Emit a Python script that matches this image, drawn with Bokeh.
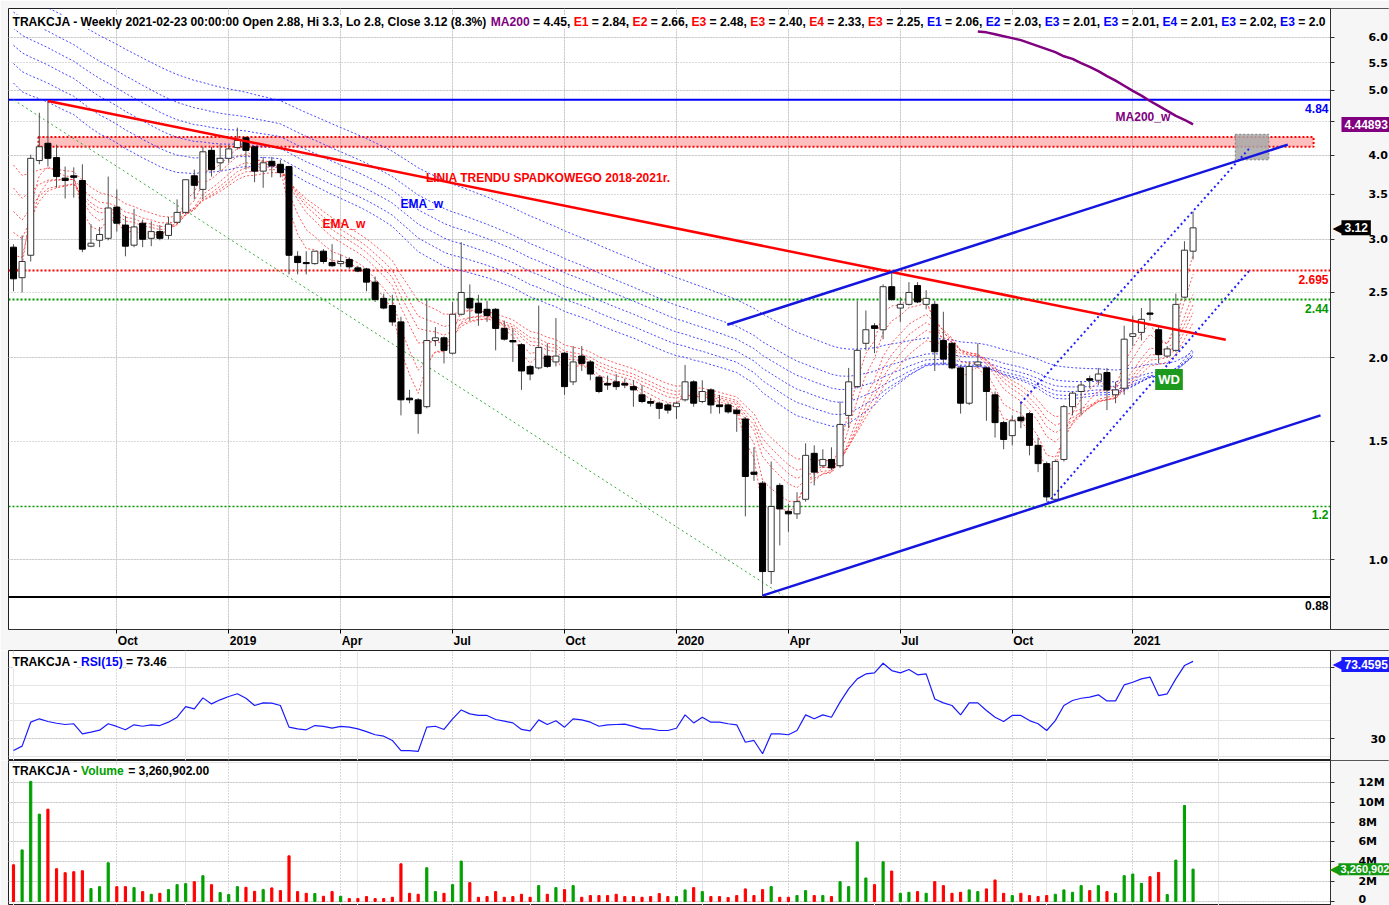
import numpy as np
from bokeh.plotting import figure
from bokeh.models import (FixedTicker, PrintfTickFormatter, Label, Grid, ColumnDataSource,
                          LogAxis, LinearAxis, BoxAnnotation)
from bokeh.layouts import column
from bokeh.embed import file_html
from bokeh.resources import INLINE

# ---------------- data (weekly bars, first week 2018-07-09, last 2021-02-22) ----------------
opens = [2.92, 2.63, 2.84, 3.93, 4.17, 3.97, 3.70, 3.73, 3.67, 2.93,
         2.99, 3.01, 3.35, 3.15, 2.94, 3.17, 3.01, 3.08, 3.04, 3.18,
         3.29, 3.73, 3.56, 4.07, 3.90, 3.96, 4.11, 4.25, 4.12, 3.79,
         3.92, 3.88, 3.85, 2.83, 2.77, 2.76, 2.88, 2.77, 2.76, 2.80,
         2.72, 2.71, 2.59, 2.45, 2.39, 2.26, 1.74, 1.73, 1.69, 2.12,
         2.14, 2.03, 2.32, 2.45, 2.41, 2.36, 2.36, 2.21, 2.12, 2.09,
         1.94, 1.93, 2.01, 1.97, 2.03, 1.84, 2.01, 1.97, 1.87, 1.83,
         1.84, 1.83, 1.81, 1.76, 1.72, 1.71, 1.70, 1.69, 1.73, 1.84,
         1.72, 1.79, 1.70, 1.70, 1.67, 1.62, 1.35, 1.30, 0.96, 1.29,
         1.18, 1.17, 1.23, 1.44, 1.38, 1.41, 1.38, 1.64, 1.81, 2.10,
         2.23, 2.20, 2.55, 2.37, 2.40, 2.56, 2.40, 2.40, 2.12, 2.10,
         1.93, 1.71, 1.95, 1.93, 1.76, 1.60, 1.53, 1.63, 1.65, 1.48,
         1.39, 1.23, 1.41, 1.69, 1.78, 1.86, 1.85, 1.90, 1.76, 1.80,
         2.15, 2.18, 2.33, 2.20, 2.01, 2.05, 2.46, 2.88]
highs = [2.95, 3.04, 4.01, 4.63, 4.82, 4.15, 3.85, 3.84, 3.88, 3.16,
         3.13, 3.72, 3.56, 3.25, 3.33, 3.21, 3.19, 3.15, 3.24, 3.44,
         3.68, 3.81, 4.12, 4.12, 4.15, 4.15, 4.40, 4.27, 4.13, 3.98,
         3.98, 3.94, 3.86, 2.88, 2.88, 2.88, 2.90, 2.95, 2.85, 2.82,
         2.74, 2.72, 2.64, 2.49, 2.48, 2.30, 1.79, 1.74, 2.45, 2.22,
         2.15, 2.42, 2.97, 2.57, 2.48, 2.43, 2.37, 2.27, 2.21, 2.10,
         1.95, 2.39, 2.10, 2.29, 2.04, 2.08, 2.08, 1.98, 1.88, 1.88,
         1.89, 1.86, 1.85, 1.82, 1.74, 1.72, 1.71, 1.72, 1.95, 1.85,
         1.85, 1.80, 1.76, 1.71, 1.68, 1.63, 1.47, 1.31, 1.40, 1.30,
         1.21, 1.26, 1.49, 1.48, 1.46, 1.47, 1.72, 1.93, 2.43, 2.35,
         2.25, 2.57, 2.69, 2.46, 2.59, 2.59, 2.52, 2.43, 2.34, 2.11,
         1.95, 1.97, 2.10, 1.94, 1.78, 1.61, 1.64, 1.72, 1.66, 1.52,
         1.40, 1.41, 1.70, 1.78, 1.84, 1.88, 1.93, 1.93, 1.84, 2.23,
         2.31, 2.37, 2.45, 2.23, 2.08, 2.49, 2.98, 3.30]
lows = [2.51, 2.50, 2.78, 3.88, 3.85, 3.58, 3.45, 3.46, 2.87, 2.92,
        2.92, 2.99, 3.08, 2.83, 2.92, 2.92, 2.93, 2.99, 3.00, 3.17,
        3.27, 3.44, 3.44, 3.72, 3.79, 3.90, 4.08, 3.81, 3.65, 3.58,
        3.71, 3.71, 2.66, 2.66, 2.66, 2.75, 2.76, 2.73, 2.73, 2.71,
        2.68, 2.51, 2.42, 2.36, 2.23, 1.64, 1.71, 1.54, 1.68, 2.08,
        1.96, 2.02, 2.31, 2.27, 2.23, 2.26, 2.05, 2.12, 1.97, 1.79,
        1.85, 1.92, 1.93, 1.94, 1.76, 1.82, 1.91, 1.85, 1.77, 1.79,
        1.79, 1.80, 1.69, 1.71, 1.69, 1.62, 1.65, 1.62, 1.72, 1.69,
        1.71, 1.65, 1.65, 1.65, 1.55, 1.16, 1.31, 0.88, 0.92, 1.05,
        1.10, 1.15, 1.22, 1.29, 1.37, 1.36, 1.37, 1.57, 1.80, 2.05,
        2.03, 2.13, 2.43, 2.26, 2.39, 2.41, 2.36, 1.91, 1.95, 1.92,
        1.65, 1.70, 1.93, 1.61, 1.52, 1.46, 1.48, 1.57, 1.43, 1.35,
        1.22, 1.22, 1.40, 1.64, 1.64, 1.80, 1.82, 1.67, 1.71, 1.76,
        2.08, 2.12, 2.27, 1.96, 2.00, 2.04, 2.45, 2.80]
closes = [2.62, 2.78, 3.96, 4.12, 3.96, 3.72, 3.67, 3.71, 2.90, 2.96,
          3.05, 3.34, 3.17, 2.93, 3.13, 3.00, 3.08, 3.01, 3.16, 3.29,
          3.68, 3.61, 4.05, 3.81, 3.96, 4.09, 4.21, 4.07, 3.79, 3.90,
          3.86, 3.77, 2.84, 2.77, 2.76, 2.88, 2.78, 2.74, 2.78, 2.73,
          2.69, 2.59, 2.44, 2.37, 2.26, 1.73, 1.73, 1.65, 2.12, 2.14,
          2.05, 2.32, 2.50, 2.37, 2.33, 2.31, 2.21, 2.13, 2.11, 1.91,
          1.89, 2.07, 1.94, 2.01, 1.81, 1.97, 1.96, 1.89, 1.78, 1.82,
          1.81, 1.82, 1.79, 1.72, 1.71, 1.68, 1.67, 1.71, 1.84, 1.71,
          1.78, 1.70, 1.69, 1.66, 1.65, 1.33, 1.34, 0.96, 1.20, 1.19,
          1.17, 1.22, 1.43, 1.35, 1.41, 1.37, 1.59, 1.84, 2.05, 2.20,
          2.21, 2.55, 2.44, 2.40, 2.50, 2.42, 2.45, 2.04, 1.99, 1.93,
          1.71, 1.94, 1.97, 1.78, 1.60, 1.51, 1.61, 1.61, 1.48, 1.39,
          1.24, 1.40, 1.69, 1.77, 1.82, 1.85, 1.89, 1.79, 1.79, 2.13,
          2.17, 2.28, 2.32, 2.02, 2.06, 2.40, 2.89, 3.12]
volume_mln = [3.7, 5.2, 12.1, 8.8, 9.3, 3.3, 2.9, 3.0, 3.1, 1.3,
              1.5, 3.9, 1.5, 1.5, 1.4, 1.0, 0.73, 0.83, 1.2, 1.7,
              1.8, 2.0, 2.6, 1.7, 0.9, 0.7, 1.5, 1.43, 1.03, 1.2,
              1.37, 1.1, 4.6, 1.0, 0.83, 0.8, 0.53, 1.0, 0.53, 0.3,
              0.3, 0.5, 0.3, 0.3, 0.43, 3.8, 0.83, 0.73, 3.4, 1.0,
              0.83, 1.7, 4.07, 1.9, 0.43, 0.5, 1.0, 0.43, 0.5, 0.73,
              0.43, 1.6, 0.73, 1.4, 1.2, 1.6, 0.43, 0.6, 0.6, 0.6,
              0.73, 0.5, 0.5, 0.43, 0.5, 0.8, 0.5, 0.5, 1.17, 1.4,
              1.0, 0.5, 0.5, 0.4, 0.6, 1.27, 0.6, 1.2, 1.5, 0.43,
              0.43, 0.6, 1.1, 0.6, 0.6, 0.5, 2.0, 1.5, 6.0, 2.37,
              1.7, 4.0, 3.07, 0.83, 0.93, 1.0, 0.83, 2.0, 1.6, 0.83,
              0.93, 1.17, 1.0, 1.27, 2.17, 0.83, 0.6, 0.83, 0.6, 0.5,
              0.6, 0.73, 1.17, 0.93, 1.6, 1.1, 1.6, 1.0, 0.83, 2.6,
              2.77, 1.83, 2.5, 2.93, 0.7, 4.17, 9.67, 3.260902]
rsi15 = [23.2, 25.7, 39.2, 41.1, 39.6, 38.6, 37.9, 38.3, 32.6, 33.6,
         34.7, 38.3, 36.8, 34.9, 37.7, 36.9, 37.7, 37.3, 39.2, 42.0,
         48.0, 46.7, 52.9, 49.5, 51.8, 53.7, 55.2, 52.7, 48.6, 50.1,
         49.9, 48.6, 36.4, 35.4, 34.9, 37.3, 36.8, 35.8, 36.8, 36.4,
         35.4, 33.9, 32.1, 31.3, 28.9, 23.2, 23.2, 22.7, 36.4, 36.9,
         35.1, 41.1, 46.1, 43.9, 43.0, 43.0, 40.7, 39.8, 38.8, 35.1,
         34.3, 40.5, 37.9, 40.0, 36.4, 41.1, 40.5, 39.2, 36.9, 37.7,
         37.9, 38.1, 36.8, 35.4, 35.4, 34.5, 34.5, 35.8, 43.3, 38.8,
         42.0, 39.2, 39.2, 38.3, 37.7, 27.9, 28.9, 21.4, 32.6, 32.6,
         32.1, 34.5, 43.3, 41.1, 43.3, 42.0, 50.5, 58.0, 63.6, 66.4,
         67.0, 72.4, 68.3, 67.0, 68.9, 65.9, 66.4, 52.3, 50.1, 48.6,
         43.3, 50.1, 50.1, 45.8, 42.0, 39.6, 43.0, 43.0, 40.1, 38.3,
         34.5, 40.1, 48.6, 51.4, 52.7, 53.3, 54.6, 51.2, 51.2, 60.2,
         61.7, 63.6, 64.6, 54.2, 55.2, 63.6, 71.1, 73.4595]
ma200_first_bar = 112
ma200_w = [6.12, 6.10, 6.06, 6.02, 5.98, 5.94, 5.88, 5.82, 5.76, 5.70,
           5.62, 5.57, 5.49, 5.42, 5.34, 5.25, 5.17, 5.08, 4.99, 4.91,
           4.82, 4.74, 4.66, 4.58, 4.52, 4.44893]
# GMMA ribbons: EMA periods and their values at the first visible week
red_ema_periods = [3, 5, 8, 10, 12, 15]
red_ema_start = [2.75, 2.95, 3.20, 3.45, 3.75, 4.05]
blue_ema_periods = [30, 35, 40, 45, 50, 60]
blue_ema_start = [5.30, 5.65, 6.00, 6.35, 6.70, 7.20]

xtick_bars = [12, 25, 38, 51, 64, 77, 90, 103, 116, 130]
xtick_labels = ["Oct", "2019", "Apr", "Jul", "Oct", "2020", "Apr", "Jul", "Oct", "2021"]
price_ticks = [1.0, 1.5, 2.0, 2.5, 3.0, 3.5, 4.0, 4.5, 5.0, 5.5, 6.0]
rsi_ticks = [30, 70]
vol_ticks = [0, 2e6, 4e6, 6e6, 8e6, 10e6, 12e6]
vol_tick_labels = ["0", "2M", "4M", "6M", "8M", "10M", "12M"]

levels = [4.84, 2.695, 2.44, 1.2, 0.88]
level_labels = ["4.84", "2.695", "2.44", "1.2", "0.88"]

trend_red_x, trend_red_y = [4, 140.8], [4.82, 2.126]
channel_up_x, channel_up_y = [82.9, 148.0], [2.238, 4.15]
channel_low_x, channel_low_y = [87.0, 151.8], [0.884, 1.64]
dot_fast_x, dot_fast_y = [116.96, 143.7], [1.709, 4.12]
dot_slow_x, dot_slow_y = [120.1, 143.7], [1.215, 2.709]
green_diag_x, green_diag_y = [0, 89.4], [4.84, 0.884]
resist_zone = dict(left=[2.9], right=[151.0], bottom=[4.12], top=[4.26])
target_box = dict(left=[141.9], right=[145.8], bottom=[3.94], top=[4.30])

red_names = ["E1", "E2", "E3", "E3", "E4", "E3"]
red_vals = ["2.84", "2.66", "2.48", "2.40", "2.33", "2.25"]
blue_names = ["E1", "E2", "E3", "E3", "E4", "E3", "E3"]
blue_vals = ["2.06", "2.03", "2.01", "2.01", "2.01", "2.02", "2.0"]

# ---------------- helpers ----------------
def ema(vals, period, start):
    a = 2.0 / (period + 1)
    e, out = start, []
    for v in vals:
        e = e + a * (v - e)
        out.append(e)
    return out

AW = {}
for ch, w in zip("ABCDEFGHIJKLMNOPQRSTUVWXYZ",
                 [722, 722, 722, 722, 667, 611, 778, 722, 278, 556, 722, 611, 833,
                  722, 778, 667, 778, 722, 667, 611, 722, 667, 944, 667, 667, 611]):
    AW[ch] = w
for ch, w in zip("abcdefghijklmnopqrstuvwxyz",
                 [556, 611, 556, 611, 556, 333, 611, 611, 278, 278, 556, 278, 889,
                  611, 611, 611, 611, 389, 556, 333, 611, 556, 778, 556, 556, 500]):
    AW[ch] = w
for ch in "0123456789":
    AW[ch] = 556
AW.update({" ": 278, ".": 278, ",": 278, ":": 333, "-": 333, "=": 584, "(": 333,
           ")": 333, "%": 889, "_": 556})

def text_px(s, size):
    return sum(AW.get(ch, 556) for ch in s) * size / 1000.0

HFONT = "Liberation Sans"
AFONT = "DejaVu Sans"
PURPLE = "#800080"
GREEN = "#009900"
GRIDC = "#b4b4b4"
STRIP = "#f6f6f6"
PX_PER_BAR = 8.61
X0 = -0.58                      # left frame edge
X1 = 152.96                     # price-axis line
X_END = X0 + 1381 / PX_PER_BAR  # right edge of the window

def add_header(fig, segments, y, size=12.1):
    off = 4.0
    for txt, col in segments:
        lead = len(txt) - len(txt.lstrip(" "))
        fig.add_layout(Label(x=X0, y=y, x_offset=off + text_px(" " * lead, size), text=txt.strip(),
                             text_color=col, text_font=HFONT, text_font_style="bold",
                             text_font_size=f"{size}px", text_baseline="middle",
                             background_fill_color="white"))
        off += text_px(txt, size)

def badge(fig, y, txt, color, offset=11, arrow=True, dy=0, size=12, pad=3):
    if arrow:
        fig.add_layout(Label(x=X1, y=y, x_offset=offset - 9, y_offset=dy, text="\u25C0", text_color=color,
                             text_font=AFONT, text_font_size="15px", text_baseline="middle"))
    fig.add_layout(Label(x=X1, y=y, x_offset=offset, y_offset=dy, text=txt, text_color="white",
                         text_font=HFONT, text_font_style="bold", text_font_size=f"{size}px",
                         text_baseline="middle", background_fill_color=color, padding=pad))

def style_yaxis(ax, standoff):
    ax.major_label_text_font = AFONT
    ax.major_label_text_font_style = "bold"
    ax.major_label_text_font_size = "11px"
    ax.major_label_text_color = "black"
    ax.major_tick_out = 4
    ax.major_tick_in = 0
    ax.minor_tick_out = 0
    ax.minor_tick_in = 0
    ax.major_label_standoff = standoff
    ax.axis_line_color = "#303030"
    ax.major_tick_line_color = "#303030"
    ax.fixed_location = X1

def make_fig(height, y_range, **kw):
    fig = figure(width=1389, height=height, x_range=kw.pop("x_range"), y_range=y_range,
                 output_backend="svg", toolbar_location=None, min_border_left=8, min_border_right=0,
                 border_fill_color=STRIP, background_fill_color="white",
                 outline_line_color="#202020", y_axis_location=None, **kw)
    return fig

def finish_panel(fig, yticks):
    fig.add_layout(Grid(dimension=0, ticker=FixedTicker(ticks=xtick_bars),
                        grid_line_color=GRIDC, grid_line_dash="1 2"))
    fig.add_layout(Grid(dimension=1, ticker=FixedTicker(ticks=yticks),
                        grid_line_color=GRIDC, grid_line_dash="1 2"))
    fig.add_layout(BoxAnnotation(left=X1, fill_color=STRIP, fill_alpha=1.0, line_alpha=0,
                                 level="underlay"))

idx = np.arange(len(closes))
o, h, l, c = (np.array(a) for a in (opens, highs, lows, closes))
up = c >= o

# ---------------- price panel ----------------
p1 = make_fig(650, (0.787, 6.62), x_range=(X0, X_END), y_axis_type="log",
              min_border_top=8, min_border_bottom=18)
finish_panel(p1, price_ticks)
ya = LogAxis(ticker=FixedTicker(ticks=price_ticks), formatter=PrintfTickFormatter(format="%.1f"))
style_yaxis(ya, 34)
p1.add_layout(ya, "right")

xa = p1.xaxis[0]
xa.ticker = FixedTicker(ticks=xtick_bars)
xa.major_label_overrides = {b: "" for b in xtick_bars}
xa.major_label_text_font_size = "0px"
xa.major_label_standoff = 0
xa.major_tick_out = 4
xa.major_tick_in = 0
xa.minor_tick_out = 0
xa.minor_tick_in = 0
xa.axis_line_color = "#303030"
label_pos = [b + (text_px(t, 12) / 2 + 1) / PX_PER_BAR for b, t in zip(xtick_bars, xtick_labels)]
xl = LinearAxis(ticker=FixedTicker(ticks=label_pos),
                major_label_overrides={p: t for p, t in zip(label_pos, xtick_labels)},
                major_label_text_font=HFONT, major_label_text_font_style="bold",
                major_label_text_font_size="12px", major_label_text_color="black",
                major_label_standoff=0, major_tick_out=0, major_tick_in=0,
                minor_tick_out=0, minor_tick_in=0, axis_line_color=None)
p1.add_layout(xl, "below")

# resistance zone & target box
p1.quad(source=ColumnDataSource(resist_zone), left="left", right="right", bottom="bottom", top="top",
        fill_color="#ff7070", fill_alpha=0.45, line_color="red", line_dash="2 2", line_width=2)
p1.quad(source=ColumnDataSource(target_box), left="left", right="right", bottom="bottom", top="top",
        fill_color="#a8a8a8", fill_alpha=0.85, line_color="#808080", line_dash="2 2", line_width=1)

# horizontal levels
lvl_styles = [("blue", "solid", 2), ("red", "2 2", 2), (GREEN, "2 2", 2), (GREEN, "2 2", 1.5), ("black", "solid", 2)]
for lv, (col, dash, w) in zip(levels, lvl_styles):
    p1.segment(x0=[X0], y0=[lv], x1=[X1], y1=[lv], line_color=col, line_dash=dash, line_width=w)
for lv, txt, (col, _, _) in zip(levels, level_labels, lvl_styles):
    p1.add_layout(Label(x=X1, y=lv, x_offset=-2, y_offset=-4, text=txt, text_align="right",
                        text_baseline="top", text_color=col, text_font=HFONT,
                        text_font_style="bold", text_font_size="12px"))

# GMMA ribbons
for per, st in zip(blue_ema_periods, blue_ema_start):
    p1.line(idx, ema(closes, per, st), line_color="#2828ff", line_dash="2 2", line_width=1, line_alpha=0.85)
for per, st in zip(red_ema_periods, red_ema_start):
    p1.line(idx, ema(closes, per, st), line_color="#ff2020", line_dash="2 2", line_width=1, line_alpha=0.75)

# MA200 weekly
p1.line(idx[ma200_first_bar:], ma200_w, line_color=PURPLE, line_width=2.5)

# green diagonal
p1.line(green_diag_x, green_diag_y, line_color="#33aa33", line_dash="2 3", line_width=1)

# candles
src = ColumnDataSource(dict(x=idx, h=h, l=l, top=np.maximum(o, c), bottom=np.minimum(o, c),
                            fill=["white" if u else "black" for u in up],
                            edge=["#333333" if u else "black" for u in up]))
p1.segment(x0="x", y0="h", x1="x", y1="l", source=src, line_color="#505050", line_width=1)
p1.vbar(x="x", top="top", bottom="bottom", width=0.7, fill_color="fill", line_color="edge", source=src)

# trend lines
p1.line(trend_red_x, trend_red_y, line_color="red", line_width=2.5)
p1.line(channel_up_x, channel_up_y, line_color="#1515e0", line_width=2.5)
p1.line(channel_low_x, channel_low_y, line_color="#1515e0", line_width=2.5)
p1.line(dot_fast_x, dot_fast_y, line_color="#2020ff", line_dash="2 3", line_width=2)
p1.line(dot_slow_x, dot_slow_y, line_color="#2020ff", line_dash="2 3", line_width=2)

# text annotations
def note(fig, x, y, txt, col, size=12, bg=None, pad=0):
    kw = dict(x=x, y=y, text=txt, text_color=col, text_font=HFONT, text_font_style="bold",
              text_font_size=f"{size}px", text_baseline="middle")
    if bg:
        kw.update(background_fill_color=bg, padding=pad)
    fig.add_layout(Label(**kw))

note(p1, 47.9, 3.70, "LINIA TRENDU SPADKOWEGO 2018-2021r.", "red")
note(p1, 35.9, 3.16, "EMA_w", "red")
note(p1, 44.95, 3.39, "EMA_w", "blue")
note(p1, 128.0, 4.57, "MA200_w", PURPLE)
note(p1, 132.6, 1.855, "WD", "white", size=13, bg="#1d9a1d", pad=3)

segs = [("TRAKCJA - Weekly 2021-02-23 00:00:00 Open 2.88, Hi 3.3, Lo 2.8, Close 3.12 (8.3%) ", "black"),
        ("MA200", PURPLE), (" = 4.45, ", "black")]
for n, v in zip(red_names, red_vals):
    segs += [(n, "red"), (f" = {v}, ", "black")]
for i, (n, v) in enumerate(zip(blue_names, blue_vals)):
    segs += [(n, "blue"), (f" = {v}" + (", " if i < len(blue_names) - 1 else ""), "black")]
add_header(p1, segs, 6.32)

badge(p1, 4.44893, "4.44893", PURPLE, offset=11, arrow=False)
badge(p1, closes[-1], "3.12", "black")

# ---------------- RSI panel ----------------
p2 = make_fig(110, (17.6, 79.6), x_range=p1.x_range, x_axis_location=None,
              min_border_top=0, min_border_bottom=0)
finish_panel(p2, rsi_ticks)
ra = LinearAxis(ticker=FixedTicker(ticks=rsi_ticks))
style_yaxis(ra, 36)
p2.add_layout(ra, "right")
p2.line(idx, rsi15, line_color="#1a1aff", line_width=1.2)
add_header(p2, [("TRAKCJA - ", "black"), ("RSI(15)", "blue"), (" = 73.46", "black")], 73.4)
badge(p2, rsi15[-1], "73.4595", "#1a1aff", dy=-3)

# ---------------- Volume panel ----------------
p3 = make_fig(145, (-0.4e6, 14.2e6), x_range=p1.x_range, x_axis_location=None,
              min_border_top=0, min_border_bottom=0)
finish_panel(p3, vol_ticks)
va = LinearAxis(ticker=FixedTicker(ticks=vol_ticks),
                major_label_overrides={int(t): s for t, s in zip(vol_ticks, vol_tick_labels)})
style_yaxis(va, 24)
p3.add_layout(va, "right")
vol = np.array(volume_mln) * 1e6
p3.vbar(x=idx, top=vol, bottom=0, width=0.25,
        color=["#00a000" if u else "#ff0000" for u in up])
add_header(p3, [("TRAKCJA - ", "black"), ("Volume", "#00a000"), (" = 3,260,902.00", "black")], 13.1e6)
badge(p3, vol[-1], "3,260,902", "#119911", offset=8, size=11, pad=2)

layout = column(p1, p2, p3, spacing=0)
open("out.html", "w").write(file_html(layout, INLINE))
